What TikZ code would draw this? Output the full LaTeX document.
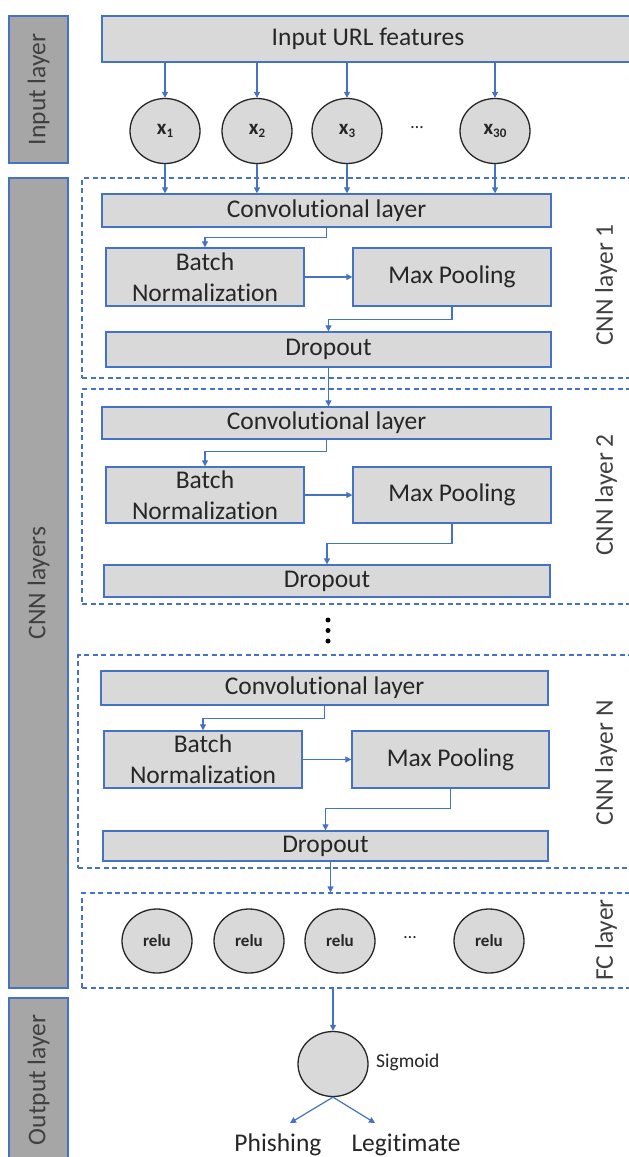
\documentclass[tikz,border=0pt]{standalone}
\usepackage{fontspec}
\setmainfont{Carlito}[Ligatures=NoCommon]
\usetikzlibrary{arrows.meta,shapes.geometric}
\definecolor{bl}{HTML}{4472C4}
\definecolor{lg}{HTML}{D9D9D9}
\definecolor{dg}{HTML}{A6A6A6}
\definecolor{tx}{HTML}{262626}
\definecolor{sx}{HTML}{404040}
\begin{document}
\begin{tikzpicture}[x=1pt,y=-1pt,
  box/.style={draw=bl, fill=lg, line width=1.3pt, inner sep=0pt, text=tx,
    font=\fontsize{25.5}{31}\selectfont, align=center},
  side/.style={draw=bl, fill=dg, line width=1.3pt, inner sep=0pt, text=sx,
    font=\fontsize{25.5}{31}\selectfont, rotate=90, minimum height=59pt},
  dbox/.style={draw=bl, line width=1.2pt, dash pattern=on 5pt off 3.5pt, inner sep=0pt},
  neuron/.style={ellipse, draw=black!85, fill=lg, line width=1.3pt, inner sep=0pt,
    minimum width=70pt, minimum height=65pt, text=tx},
  rlab/.style={rotate=90, text=sx, font=\fontsize{25.5}{31}\selectfont, inner sep=0pt},
  plain/.style={text=tx, font=\fontsize{25.5}{31}\selectfont, inner sep=0pt},
  hdots/.style={text=tx, font=\fontsize{18}{18}\selectfont, inner sep=0pt},
  vdot/.style={circle, fill=black, inner sep=0pt, minimum size=5pt},
  arr/.style={draw=bl, line width=1.2pt, -{Triangle[length=6pt,width=6pt]}}
]
\clip (0,0) rectangle (629,1157);
\fill[white] (0,0) rectangle (629,1157);

% dashed group boxes
\node[dbox, minimum width=558pt, minimum height=200pt] (g1) at (361,278) {};
\node[dbox, minimum width=558pt, minimum height=215pt] (g2) at (361,496.5) {};
\node[dbox, minimum width=562pt, minimum height=213pt] (gN) at (359,761.5) {};
\node[dbox, minimum width=558pt, minimum height=95pt] (gfc) at (361,940.5) {};

% side bars
\node[side, minimum width=147pt] (inL) at (38.5,89.5) {Input layer};
\node[side, minimum width=810pt] (cnnL) at (38.5,583) {CNN layers};
\node[side, minimum width=164pt] (outL) at (38.5,1080) {Output layer};

% right labels
\node[rlab] (l1) at (606,285) {CNN layer 1};
\node[rlab] (l2) at (606,495) {CNN layer 2};
\node[rlab] (lN) at (606,763) {CNN layer N};
\node[rlab] (lfc) at (606,940) {FC layer};

% input
\node[box, minimum width=532pt, minimum height=46pt] (inp) at (368,39) {Input URL features};
\foreach \n/\x/\s in {x1/165/1, x2/257/2, x3/347/3, x30/495/30}{
  \node[neuron, font=\fontsize{21}{21}\selectfont\bfseries] (\n) at (\x,131)
    {x\raisebox{-0.12em}{\fontsize{13}{13}\selectfont\bfseries\s}};
  \draw[arr] (\n.north |- inp.south) -- (\n.north);
}
\node[hdots] (xd) at (417,128) {\ldots};

% CNN layer 1
\node[box, minimum width=449pt, minimum height=33pt] (c1) at (326.5,210.5) {Convolutional layer};
\node[box, minimum width=198pt, minimum height=58pt] (b1) at (205,277) {Batch\\Normalization};
\node[box, minimum width=198pt, minimum height=58pt] (m1) at (452,277) {Max Pooling};
\node[box, minimum width=445pt, minimum height=35pt] (d1) at (328.5,349.5) {Dropout};
\foreach \n in {x1,x2,x3,x30}{
  \draw[arr] (\n.south) -- (\n.south |- c1.north);
}
\draw[arr] (c1.south) -- ++(0,10) -| (b1.north);
\draw[arr] (b1.east) -- (m1.west);
\draw[arr] (m1.south) -- ++(0,13) -| (d1.north);

% CNN layer 2
\node[box, minimum width=449pt, minimum height=32pt] (c2) at (326.5,423) {Convolutional layer};
\node[box, minimum width=198pt, minimum height=56pt] (b2) at (205,495) {Batch\\Normalization};
\node[box, minimum width=198pt, minimum height=56pt] (m2) at (452,495) {Max Pooling};
\node[box, minimum width=446pt, minimum height=32pt] (d2) at (327,581) {Dropout};
\draw[arr] (d1.south) -- (d1.south |- c2.north);
\draw[arr] (c2.south) -- ++(0,12) -| (b2.north);
\draw[arr] (b2.east) -- (m2.west);
\draw[arr] (m2.south) -- ++(0,20) -| (d2.north);

% vertical dots
\node[vdot] (v1) at (328,620) {};
\node[vdot] (v2) at (328,630.5) {};
\node[vdot] (v3) at (328,641) {};

% CNN layer N
\node[box, minimum width=447pt, minimum height=34pt] (cN) at (324.5,688) {Convolutional layer};
\node[box, minimum width=198pt, minimum height=57pt] (bN) at (203,759.5) {Batch\\Normalization};
\node[box, minimum width=197pt, minimum height=57pt] (mN) at (450.5,759.5) {Max Pooling};
\node[box, minimum width=445pt, minimum height=30pt] (dN) at (325.5,846) {Dropout};
\draw[arr] (cN.south) -- ++(0,13) -| (bN.north);
\draw[arr] (bN.east) -- (mN.west);
\draw[arr] (mN.south) -- ++(0,20) -| (dN.north);

% FC layer
\draw[arr] ([xshift=5pt]dN.south) -- ([xshift=5pt]dN.south |- gfc.north);
\foreach \n/\x in {r1/157, r2/249, r3/340, r4/489}{
  \node[neuron, minimum height=64pt, font=\fontsize{17}{17}\selectfont\bfseries] (\n) at (\x,941) {relu};
}
\node[hdots] (rd) at (410,938) {\ldots};

% output
\node[neuron] (sig) at (333,1064) {};
\node[text=tx, font=\fontsize{19.5}{20}\selectfont, inner sep=0pt, anchor=west] (sigl) at (376,1062) {Sigmoid};
\draw[arr] (sig.north |- gfc.south) -- (sig.north);
\coordinate (p1) at (290,1123);
\coordinate (p2) at (375,1123);
\draw[arr] (sig.south) -- (p1);
\draw[arr] (sig.south) -- (p2);
\node[plain] (ph) at (278,1145) {Phishing};
\node[plain] (lg) at (406,1145) {Legitimate};
\end{tikzpicture}
\end{document}
